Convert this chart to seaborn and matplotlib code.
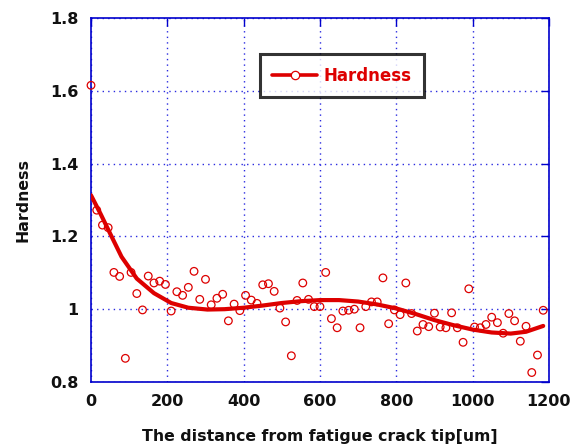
import matplotlib
matplotlib.use("Agg")
import matplotlib.pyplot as plt
from matplotlib.lines import Line2D
import pandas as pd
import seaborn as sns

# Measured hardness along the path from the fatigue crack tip
distance_um = [0, 15, 30, 45, 60, 75, 90, 105, 120, 135,
               150, 165, 180, 195, 210, 225, 240, 255, 270, 285,
               300, 315, 330, 345, 360, 375, 390, 405, 420, 435,
               450, 465, 480, 495, 510, 525, 540, 555, 570, 585,
               600, 615, 630, 645, 660, 675, 690, 705, 720, 735,
               750, 765, 780, 795, 810, 825, 840, 855, 870, 885,
               900, 915, 930, 945, 960, 975, 990, 1005, 1020, 1035,
               1050, 1065, 1080, 1095, 1110, 1125, 1140, 1155, 1170, 1185]
hardness = [1.615, 1.272, 1.231, 1.224, 1.101, 1.090, 0.865, 1.101, 1.043, 0.998,
            1.091, 1.072, 1.077, 1.068, 0.995, 1.048, 1.038, 1.060, 1.104, 1.027,
            1.082, 1.012, 1.030, 1.041, 0.968, 1.014, 0.996, 1.038, 1.025, 1.016,
            1.067, 1.070, 1.049, 1.003, 0.965, 0.872, 1.024, 1.072, 1.027, 1.007,
            1.007, 1.101, 0.974, 0.949, 0.995, 0.997, 1.000, 0.949, 1.007, 1.020,
            1.020, 1.086, 0.960, 0.998, 0.985, 1.072, 0.988, 0.940, 0.958, 0.952,
            0.989, 0.951, 0.949, 0.990, 0.949, 0.909, 1.056, 0.951, 0.949, 0.958,
            0.978, 0.963, 0.934, 0.988, 0.968, 0.912, 0.953, 0.826, 0.874, 0.997]

# Smooth trend curve through the measurements
trend_x = [0, 25, 50, 80, 120, 165, 210, 255, 305, 350, 400, 450, 500,
           550, 600, 650, 700, 750, 800, 850, 900, 950, 1000, 1050, 1100,
           1140, 1185]
trend_y = [1.313, 1.262, 1.208, 1.144, 1.084, 1.044, 1.017, 1.004, 0.999,
           1.000, 1.004, 1.010, 1.017, 1.022, 1.025, 1.025, 1.021, 1.013,
           1.002, 0.987, 0.970, 0.956, 0.944, 0.936, 0.933, 0.938, 0.954]

x_ticks = [0, 200, 400, 600, 800, 1000, 1200]
y_ticks = [0.8, 1.0, 1.2, 1.4, 1.6, 1.8]
y_tick_labels = ["0.8", "1", "1.2", "1.4", "1.6", "1.8"]

points = pd.DataFrame({"distance": distance_um, "hardness": hardness})
trend = pd.DataFrame({"distance": trend_x, "hardness": trend_y})

sns.set_theme(style="white")
plt.rcParams["font.family"] = ["DejaVu Sans"]

RED = "#dd0000"
BLUE = "#0000cc"

fig = plt.figure(figsize=(5.76, 4.45), dpi=100)
ax = fig.add_axes([0.158, 0.1416, 0.795, 0.818])

sns.lineplot(data=trend, x="distance", y="hardness", ax=ax, color=RED,
             linewidth=3.0, sort=False, zorder=3)
sns.scatterplot(data=points, x="distance", y="hardness", ax=ax, marker="o",
                facecolors="none", edgecolor=RED, linewidth=0.9, s=30,
                zorder=4, clip_on=False)

ax.set_xlim(0, 1200)
ax.set_ylim(0.8, 1.8)
ax.set_xticks(x_ticks)
ax.set_yticks(y_ticks)
ax.set_xticklabels([str(v) for v in x_ticks])
ax.set_yticklabels(y_tick_labels)

ax.grid(True, color="#2a2ae0", linestyle=(0, (1, 3)), linewidth=1.0)
for side in ["left", "bottom", "top", "right"]:
    ax.spines[side].set_visible(True)
    ax.spines[side].set_color(BLUE)
    ax.spines[side].set_linewidth(1.2)

ax.tick_params(axis="both", which="major", direction="in", length=6,
               width=1.0, color=BLUE, top=True, right=True,
               labelsize=11.5, pad=9)
for lab in ax.get_xticklabels() + ax.get_yticklabels():
    lab.set_fontweight("bold")
    lab.set_color("#111111")

ax.set_xlabel("The distance from fatigue crack tip[um]", fontsize=11.3,
              fontweight="bold", color="#111111", labelpad=14)
ax.set_ylabel("Hardness", fontsize=11.3, fontweight="bold",
              color="#111111", labelpad=14)

handle = Line2D([], [], color=RED, linewidth=2.6, marker="o",
                markerfacecolor="white", markeredgecolor=RED,
                markersize=6, markeredgewidth=0.9)
leg = ax.legend(handles=[handle], labels=["Hardness"], loc="upper left",
                bbox_to_anchor=(0.368, 0.901), borderaxespad=0,
                frameon=True, fancybox=False, numpoints=1,
                handlelength=2.7, handletextpad=0.4, borderpad=0.75,
                prop={"weight": "bold", "size": 12})
leg.get_frame().set_edgecolor("black")
leg.get_frame().set_linewidth(2.2)
for txt in leg.get_texts():
    txt.set_color(RED)

fig.savefig("out.png", dpi=100)
